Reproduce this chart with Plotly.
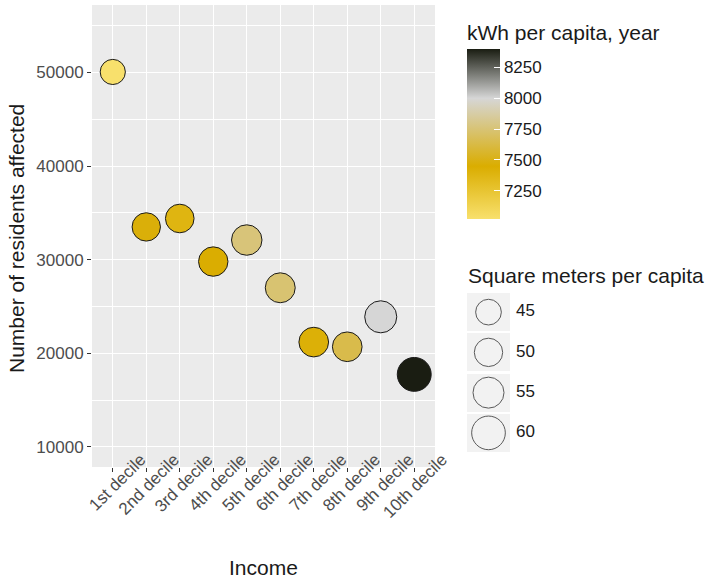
import plotly.graph_objects as go

# ---- data ----
deciles = ["1st decile", "2nd decile", "3rd decile", "4th decile", "5th decile",
           "6th decile", "7th decile", "8th decile", "9th decile", "10th decile"]
residents = [50050, 33500, 34400, 29800, 32100, 27000, 21200, 20700, 23900, 17750]
kwh = [7020, 7470, 7380, 7450, 7760, 7740, 7420, 7640, 8000, 8400]
sqm = [44, 50, 50.5, 52, 54, 53, 52.5, 52.5, 57, 60.5]

size_breaks = [45, 50, 55, 60]
size_labels = ["45", "50", "55", "60"]
kwh_ticks = [7250, 7500, 7750, 8000, 8250]
y_ticks = [10000, 20000, 30000, 40000, 50000]

FONT = "Liberation Sans, Arial, sans-serif"

def diam(v):
    # size scale (px) fitted to the legend keys
    return 26.7 + (v - 45) * 0.53 - 1

colorscale = [
    [0.00, "#F8E06C"],
    [0.31, "#DAAD00"],
    [0.71, "#D6D6D6"],
    [1.00, "#1A1D12"],
]

W, H = 710, 579
ml, mr, mt, mb = 92, 10, 5, 112
pw, ph = W - ml - mr, H - mt - mb

def px_x(p):
    return (p - ml) / pw

def px_y(p):
    return (H - mb - p) / ph

fig = go.Figure()

fig.add_trace(go.Scatter(
    x=deciles, y=residents, mode="markers",
    marker=dict(
        size=[diam(v) for v in sqm],
        color=kwh, colorscale=colorscale,
        cmin=min(kwh), cmax=max(kwh),
        line=dict(color="#1A1A1A", width=1),
        opacity=1,
        colorbar=dict(
            title=dict(text="kWh per capita, year", side="top",
                       font=dict(size=21, color="#1A1A1A", family=FONT)),
            x=px_x(467), xanchor="left", xpad=0,
            y=px_y(120), yanchor="middle", ypad=0,
            len=198, lenmode="pixels", thickness=33,
            outlinewidth=0,
            tickvals=kwh_ticks,
            ticks="inside", ticklen=6, tickcolor="white", tickwidth=1,
            tickfont=dict(size=17, color="#1A1A1A", family=FONT),
        ),
    ),
    showlegend=False, xaxis="x", yaxis="y",
    hoverinfo="x+y",
))

# size legend: key backgrounds, circles and labels on a helper axis pair
fig.add_trace(go.Bar(
    y=size_labels, x=[43] * len(size_labels), base=5, orientation="h",
    width=0.95, marker=dict(color="#F2F2F2", line=dict(width=0)),
    xaxis="x2", yaxis="y2", showlegend=False, hoverinfo="skip",
))
fig.add_trace(go.Scatter(
    y=size_labels, x=[26.5] * len(size_labels), mode="markers",
    marker=dict(size=[diam(v) for v in size_breaks], color="rgba(0,0,0,0)",
                line=dict(color="#1A1A1A", width=1)),
    xaxis="x2", yaxis="y2", showlegend=False, hoverinfo="skip",
))
fig.add_trace(go.Scatter(
    y=size_labels, x=[54] * len(size_labels), mode="text",
    text=size_labels, textposition="middle right",
    textfont=dict(size=17, color="#1A1A1A", family=FONT),
    xaxis="x2", yaxis="y2", showlegend=False, hoverinfo="skip",
))

fig.update_layout(
    template="none",
    width=W, height=H,
    margin=dict(l=ml, r=mr, t=mt, b=mb, autoexpand=False),
    paper_bgcolor="white", plot_bgcolor="rgba(0,0,0,0)",
    font=dict(family=FONT),
    bargap=0,
    shapes=[dict(type="rect", xref="x domain", yref="y domain",
                 x0=0, x1=1, y0=0, y1=1, fillcolor="#EBEBEB",
                 line=dict(width=0), layer="below")],
    xaxis=dict(
        domain=[0, px_x(435)], type="category",
        range=[-0.62, 9.62],
        showgrid=True, gridcolor="white", gridwidth=1.4,
        ticks="outside", ticklen=4, tickcolor="#333333", tickwidth=1,
        tickangle=-45,
        tickfont=dict(size=17, color="#4D4D4D", family=FONT),
        ticklabelshift=28, ticklabelstandoff=-29,
        zeroline=False, showline=False, fixedrange=True, automargin=False,
    ),
    yaxis=dict(
        domain=[0, 1], range=[7860, 57200],
        tickvals=y_ticks, tickformat="d",
        showgrid=True, gridcolor="white", gridwidth=1.4,
        minor=dict(tick0=5000, dtick=10000, showgrid=True,
                   gridcolor="white", gridwidth=0.7),
        ticks="outside", ticklen=4, tickcolor="#333333", tickwidth=1,
        tickfont=dict(size=17, color="#4D4D4D", family=FONT),
        zeroline=False, showline=False, fixedrange=True, automargin=False,
    ),
    xaxis2=dict(domain=[px_x(462), 1], range=[0, 238], visible=False,
                anchor="y2", fixedrange=True),
    yaxis2=dict(domain=[px_y(453), px_y(292)], type="category",
                categoryarray=size_labels, range=[3.5, -0.5],
                visible=False, anchor="x2", fixedrange=True),
    annotations=[
        dict(text="Income", xref="paper", yref="paper",
             x=px_x(263.5), y=px_y(567), xanchor="center", yanchor="middle",
             showarrow=False, font=dict(size=21, color="#1A1A1A", family=FONT)),
        dict(text="Number of residents affected", xref="paper", yref="paper",
             x=px_x(16), y=px_y(239), xanchor="center", yanchor="middle",
             textangle=-90, showarrow=False,
             font=dict(size=21, color="#1A1A1A", family=FONT)),
        dict(text="Square meters per capita", xref="paper", yref="paper",
             x=px_x(466), y=px_y(275), xanchor="left", yanchor="middle",
             showarrow=False, font=dict(size=21, color="#1A1A1A", family=FONT)),
    ],
)

fig.write_html("out.html",
               config={"displayModeBar": False},
               post_script="document.body.style.margin='0';"
                           "document.body.style.padding='0';")
